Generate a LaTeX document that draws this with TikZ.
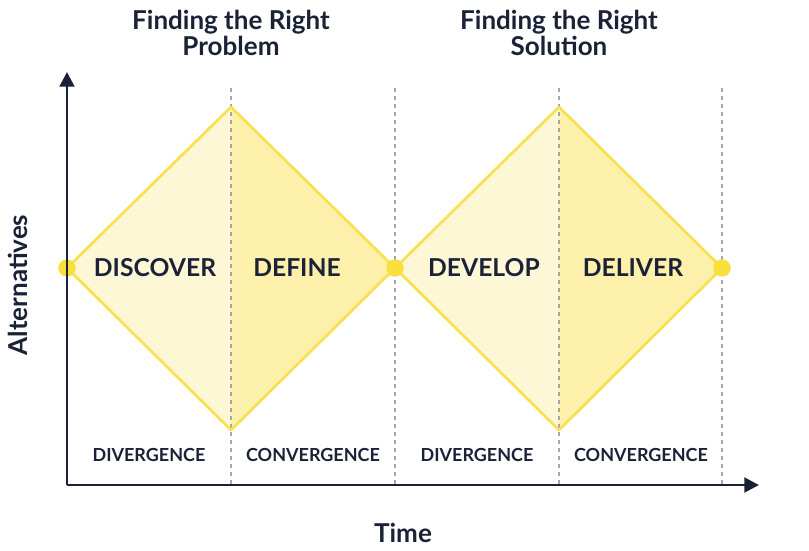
\documentclass[tikz,border=0pt]{standalone}
\usepackage{fontspec}
\setmainfont{Lato}
\usetikzlibrary{arrows.meta}
\definecolor{navy}{HTML}{1B2238}
\definecolor{lineyellow}{HTML}{F8E04E}
\definecolor{dotyellow}{HTML}{F9DE3C}
\definecolor{lightfill}{HTML}{FEF7D6}
\definecolor{darkfill}{HTML}{FDF0AA}
\tikzset{
    phase/.style={font=\fontsize{18.5}{18.5}\selectfont\bfseries, text=navy},
    mode/.style={font=\fontsize{13.5}{13.5}\selectfont\bfseries, text=navy},
    title/.style={font=\fontsize{19.5}{20}\selectfont\bfseries, text=navy, align=center},
    axis/.style={line width=2.2pt, navy, -{Triangle[length=11pt,width=11pt]}},
    guide/.style={gray!70, dashed, line width=0.8pt},
    edge/.style={lineyellow, line width=2pt, line join=round},
    dot/.style={circle, fill=dotyellow, minimum size=13pt, inner sep=0pt}
}
\begin{document}
\begin{tikzpicture}[x=0.75pt, y=-0.75pt]
    \useasboundingbox (0,0) rectangle (809,550);
    %--------------------%
    % Parameters
    %--------------------%
    \def\midy{268}
    \def\topy{107}
    \def\boty{430}

    %--------------------%
    % Diamonds
    %--------------------%
    \coordinate (l1) at (67,\midy);
    \coordinate (t1) at (231,\topy);
    \coordinate (b1) at (231,\boty);
    \coordinate (r1) at (395,\midy);
    \coordinate (t2) at (559,\topy);
    \coordinate (b2) at (559,\boty);
    \coordinate (r2) at (722,\midy);

    \fill[lightfill] (l1) -- (t1) -- (b1) -- cycle;
    \fill[darkfill] (t1) -- (r1) -- (b1) -- cycle;
    \fill[lightfill] (r1) -- (t2) -- (b2) -- cycle;
    \fill[darkfill] (t2) -- (r2) -- (b2) -- cycle;

    %--------------------%
    % Guides
    %--------------------%
    \foreach \gx in {231,395,559,722}
        \draw[guide] (\gx,88) -- (\gx,485);

    \draw[edge] (l1) -- (t1) -- (r1) -- (b1) -- cycle;
    \draw[edge] (r1) -- (t2) -- (r2) -- (b2) -- cycle;

    \node[dot] (d1) at (l1) {};
    \node[dot] (d2) at (r1) {};
    \node[dot] (d3) at (r2) {};

    %--------------------%
    % Axes
    %--------------------%
    \coordinate (origin) at (67,485);
    \coordinate (yend) at (67,72);
    \coordinate (xend) at (759,485);
    \draw[axis] (origin) -- (yend);
    \draw[axis] (origin) -- (xend);

    %--------------------%
    % Labels
    %--------------------%
    \node[phase] (discover) at (155,\midy) {DISCOVER};
    \node[phase] (define) at (297,\midy) {DEFINE};
    \node[phase] (develop) at (484,\midy) {DEVELOP};
    \node[phase] (deliver) at (633,\midy) {DELIVER};

    \node[mode] (div1) at (149,455) {DIVERGENCE};
    \node[mode] (con1) at (313,455) {CONVERGENCE};
    \node[mode] (div2) at (477,455) {DIVERGENCE};
    \node[mode] (con2) at (641,455) {CONVERGENCE};

    \node[title] (problem) at (231,33) {Finding the Right\\Problem};
    \node[title] (solution) at (559,33) {Finding the Right\\Solution};

    \node[title, rotate=90] (alt) at (18,285) {Alternatives};
    \node[title] (time) at (403,533) {Time};
\end{tikzpicture}
\end{document}
